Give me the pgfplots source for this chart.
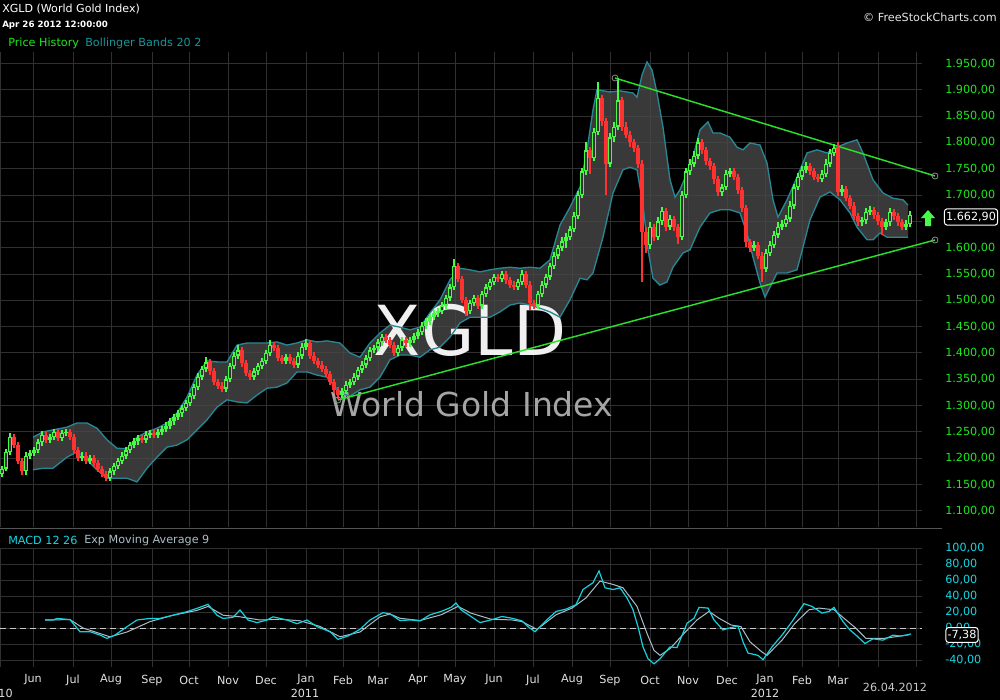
\documentclass[border=0pt]{standalone}
\usepackage{pgfplots}
\pgfplotsset{compat=1.18}
\usepackage{pgfplotstable}
\usepackage{fontspec}
\setmainfont{DejaVu Sans}
\definecolor{upg}{RGB}{70,250,70}
\definecolor{dnr}{RGB}{255,50,50}
\definecolor{bbfill}{RGB}{72,72,72}
\definecolor{bbin}{RGB}{50,50,50}
\definecolor{bbedge}{RGB}{40,135,148}
\definecolor{gridc}{RGB}{48,48,48}
\definecolor{lblg}{RGB}{30,232,30}
\definecolor{lblc}{RGB}{20,215,228}
\definecolor{macdc}{RGB}{20,210,222}
\definecolor{sigc}{RGB}{170,190,200}
\definecolor{trendg}{RGB}{40,225,40}
\definecolor{tealt}{RGB}{20,150,155}
\definecolor{monthc}{RGB}{225,225,225}
\newcommand{\smallf}{\fontsize{8.4pt}{10pt}\selectfont}

% Bollinger band: upper band (rows 0-97) followed by lower band in reverse order (rows 98-194)
\pgfplotstableread{
x y
33 1240
43 1250
53 1254
67 1259
77 1267
87 1267
97 1257
107 1235
117 1219
127 1218
137 1240
147 1250
157 1257
167 1267
177 1286
187 1316
197 1358
207 1385
217 1383
227 1383
237 1415
247 1419
257 1419
267 1419
277 1421
287 1415
297 1419
307 1425
317 1421
327 1423
340 1419
350 1400
360 1392
370 1419
380 1438
390 1453
400 1449
410 1444
420 1449
430 1476
440 1501
450 1539
460 1561
470 1558
480 1554
490 1558
500 1561
510 1563
520 1561
530 1563
540 1561
550 1577
560 1643
570 1677
580 1715
587 1786
593 1862
597 1900
610 1896
620 1898
633 1894
637 1886
642 1928
647 1953
652 1938
657 1894
663 1829
670 1729
675 1696
680 1710
687 1742
693 1772
700 1824
708 1839
713 1818
720 1818
730 1810
737 1791
743 1786
750 1799
760 1795
767 1761
773 1691
778 1658
787 1691
797 1734
807 1780
817 1786
827 1780
837 1791
847 1799
857 1805
863 1780
873 1729
883 1704
893 1694
903 1691
908 1681
908 1620
903 1620
893 1620
887 1620
880 1628
873 1615
867 1615
857 1639
850 1666
840 1691
830 1706
820 1696
810 1653
803 1601
797 1558
787 1552
777 1552
770 1525
765 1506
760 1533
753 1582
747 1628
740 1666
730 1672
720 1672
710 1666
700 1639
690 1596
683 1590
673 1563
667 1535
660 1529
653 1542
648 1596
643 1681
637 1748
630 1753
623 1748
613 1704
603 1620
593 1552
587 1539
580 1542
570 1501
560 1468
550 1478
540 1485
530 1491
520 1495
510 1491
500 1478
490 1468
480 1468
470 1468
460 1457
450 1430
440 1411
430 1406
420 1392
410 1396
400 1396
390 1387
380 1354
370 1335
360 1330
350 1318
340 1324
327 1354
317 1358
307 1364
297 1364
287 1343
277 1335
267 1333
257 1320
247 1305
237 1307
227 1311
217 1297
207 1273
197 1254
187 1235
177 1225
167 1221
157 1202
147 1181
137 1155
127 1162
117 1162
107 1162
97 1178
87 1197
77 1212
67 1202
53 1181
43 1181
33 1178
}\band

\pgfplotstableread{
x o h l c
2 1170 1186 1164 1180
6 1180 1218 1176 1212
10 1212 1248 1206 1240
14 1240 1246 1219 1225
18 1225 1231 1189 1195
22 1195 1201 1168 1175
26 1175 1211 1169 1205
30 1205 1216 1199 1210
34 1210 1221 1204 1215
38 1215 1236 1209 1230
42 1230 1251 1224 1245
46 1245 1251 1229 1235
50 1235 1246 1229 1240
54 1240 1256 1234 1250
58 1250 1256 1232 1238
62 1238 1254 1232 1248
66 1248 1256 1242 1250
70 1250 1256 1234 1240
74 1240 1246 1209 1215
78 1215 1221 1194 1200
82 1200 1211 1194 1205
86 1205 1211 1189 1195
90 1195 1206 1189 1200
94 1200 1206 1184 1190
98 1190 1196 1174 1180
102 1180 1186 1164 1170
106 1170 1176 1156 1162
110 1162 1181 1156 1175
114 1175 1191 1169 1185
118 1185 1201 1179 1195
122 1195 1211 1189 1205
126 1205 1221 1199 1215
130 1215 1231 1209 1225
134 1225 1238 1219 1232
138 1232 1244 1226 1238
142 1238 1244 1229 1235
146 1235 1251 1229 1245
150 1245 1254 1239 1248
154 1248 1254 1239 1245
158 1245 1256 1239 1250
162 1250 1261 1244 1255
166 1255 1268 1249 1262
170 1262 1276 1256 1270
174 1270 1284 1264 1278
178 1278 1291 1272 1285
182 1285 1301 1279 1295
186 1295 1311 1289 1305
190 1305 1324 1299 1318
194 1318 1341 1312 1335
198 1335 1361 1329 1355
202 1355 1376 1349 1370
206 1370 1392 1364 1382
210 1382 1388 1359 1365
214 1365 1371 1339 1345
218 1345 1351 1332 1338
222 1338 1344 1326 1332
226 1332 1356 1326 1350
230 1350 1381 1344 1375
234 1375 1401 1369 1395
238 1395 1415 1389 1405
242 1405 1411 1374 1380
246 1380 1386 1356 1362
250 1362 1368 1349 1355
254 1355 1371 1349 1365
258 1365 1381 1359 1375
262 1375 1391 1369 1385
266 1385 1406 1379 1400
270 1400 1425 1394 1415
274 1415 1421 1404 1410
278 1410 1416 1384 1390
282 1390 1396 1379 1385
286 1385 1398 1379 1392
290 1392 1398 1379 1385
294 1385 1391 1372 1378
298 1378 1401 1372 1395
302 1395 1418 1389 1412
306 1412 1426 1406 1418
310 1418 1424 1389 1395
314 1395 1401 1379 1385
318 1385 1391 1372 1378
322 1378 1384 1364 1370
326 1370 1376 1354 1360
330 1360 1366 1339 1345
334 1345 1351 1324 1330
338 1330 1336 1312 1320
342 1320 1334 1314 1328
346 1328 1346 1322 1340
350 1340 1351 1334 1345
354 1345 1361 1339 1355
358 1355 1374 1349 1368
362 1368 1384 1362 1378
366 1378 1396 1372 1390
370 1390 1411 1384 1405
374 1405 1416 1399 1410
378 1410 1426 1404 1420
382 1420 1436 1414 1430
386 1430 1436 1419 1425
390 1425 1431 1409 1415
394 1415 1421 1394 1400
398 1400 1416 1394 1410
402 1410 1431 1404 1425
406 1425 1431 1412 1418
410 1418 1431 1412 1425
414 1425 1438 1419 1432
418 1432 1446 1426 1440
422 1440 1458 1434 1452
426 1452 1466 1446 1460
430 1460 1474 1454 1468
434 1468 1481 1462 1475
438 1475 1486 1469 1480
442 1480 1496 1474 1490
446 1490 1511 1484 1505
450 1505 1531 1499 1525
454 1525 1578 1519 1565
458 1565 1571 1534 1540
462 1540 1546 1494 1500
466 1500 1506 1470 1480
470 1480 1501 1474 1495
474 1495 1511 1489 1505
478 1505 1511 1484 1490
482 1490 1518 1484 1512
486 1512 1531 1506 1525
490 1525 1541 1519 1535
494 1535 1551 1529 1545
498 1545 1551 1534 1540
502 1540 1556 1534 1550
506 1550 1556 1532 1538
510 1538 1544 1524 1530
514 1530 1536 1519 1525
518 1525 1541 1519 1535
522 1535 1558 1529 1550
526 1550 1556 1524 1530
530 1530 1536 1482 1495
534 1495 1501 1484 1490
538 1490 1518 1484 1512
542 1512 1536 1506 1530
546 1530 1551 1524 1545
550 1545 1571 1539 1565
554 1565 1591 1559 1585
558 1585 1606 1579 1600
562 1600 1620 1594 1612
566 1612 1628 1600 1620
570 1620 1641 1614 1635
574 1635 1668 1629 1660
578 1660 1708 1654 1700
582 1700 1752 1694 1745
586 1745 1800 1739 1785
590 1785 1791 1740 1770
594 1770 1828 1764 1820
598 1820 1915 1814 1885
602 1885 1891 1832 1840
606 1840 1846 1700 1760
610 1760 1818 1754 1810
614 1810 1838 1800 1830
618 1830 1922 1824 1880
622 1880 1886 1822 1830
626 1830 1838 1808 1815
630 1815 1821 1792 1800
634 1800 1806 1782 1790
638 1790 1796 1752 1760
642 1760 1766 1535 1630
646 1630 1640 1590 1605
650 1605 1648 1598 1640
654 1640 1646 1612 1620
658 1620 1658 1614 1650
662 1650 1678 1644 1670
666 1670 1676 1632 1640
670 1640 1662 1634 1655
674 1655 1661 1632 1640
678 1640 1646 1608 1620
682 1620 1708 1614 1700
686 1700 1752 1694 1745
690 1745 1768 1739 1760
694 1760 1783 1754 1775
698 1775 1808 1769 1800
702 1800 1806 1778 1785
706 1785 1791 1758 1765
710 1765 1771 1748 1755
714 1755 1761 1722 1730
718 1730 1736 1698 1705
722 1705 1722 1699 1715
726 1715 1748 1709 1740
730 1740 1752 1734 1745
734 1745 1751 1728 1735
738 1735 1741 1702 1710
742 1710 1716 1668 1675
746 1675 1681 1602 1610
750 1610 1616 1592 1600
754 1600 1612 1594 1605
758 1605 1611 1578 1585
762 1585 1591 1535 1560
766 1560 1598 1554 1590
770 1590 1612 1584 1605
774 1605 1632 1599 1625
778 1625 1648 1619 1640
782 1640 1652 1634 1645
786 1645 1662 1639 1655
790 1655 1688 1649 1680
794 1680 1722 1674 1715
798 1715 1742 1709 1735
802 1735 1755 1729 1748
806 1748 1762 1742 1755
810 1755 1761 1738 1745
814 1745 1751 1728 1735
818 1735 1741 1724 1730
822 1730 1748 1724 1740
826 1740 1768 1734 1760
830 1760 1788 1754 1780
834 1780 1798 1774 1790
838 1790 1800 1698 1705
842 1705 1720 1699 1712
846 1712 1718 1688 1695
850 1695 1701 1673 1680
854 1680 1686 1653 1660
858 1660 1666 1641 1648
862 1648 1659 1642 1652
866 1652 1675 1646 1668
870 1668 1679 1662 1672
874 1672 1678 1655 1662
878 1662 1668 1643 1650
882 1650 1656 1625 1640
886 1640 1655 1634 1648
890 1648 1675 1642 1668
894 1668 1674 1653 1660
898 1660 1666 1641 1648
902 1648 1654 1633 1640
906 1640 1652 1634 1645
910 1645 1669 1639 1663
}\candles

\pgfplotsset{
  candle/.style n args={2}{draw=none, mark=none, forget plot,
    error bars/.cd, y dir=plus, y explicit, error mark=none,
    error bar style={draw=#1, line width=#2, solid}},
}

\begin{document}
\begin{tikzpicture}
\fill[black] (0pt,0pt) rectangle (750pt,-525pt);

% ---------------- main price panel ----------------
\begin{axis}[
  at={(0pt,-39pt)}, anchor=north west, scale only axis,
  width=691.5pt, height=356.25pt,
  xmin=0, xmax=922, ymin=1069.35, ymax=1971.85,
  clip=false,
  axis line style={draw=none}, tick style={draw=none}, major tick length=0pt,
  grid=major, grid style={gridc, line width=0.75pt},
  xtick={0.5,33,73,111,152,189,228,266,306,343,378,418,455,494,533,572,610,650,688,727,765,802,838,878,916},
  xticklabels={},
  ytick={1100,1150,...,1950},
  yticklabel pos=right,
  yticklabels={{1.100,00},{1.150,00},{1.200,00},{1.250,00},{1.300,00},{1.350,00},{1.400,00},{1.450,00},{1.500,00},{1.550,00},{1.600,00},{1.650,00},{1.700,00},{1.750,00},{1.800,00},{1.850,00},{1.900,00},{1.950,00}},
  yticklabel style={anchor=west, inner sep=0pt, xshift=17.25pt, font=\smallf, text=lblg},
]
% Bollinger band area
\addplot[fill=bbfill, fill opacity=0.8, draw=none, forget plot] table {\band};
% watermark (behind the price data)
\node[inner sep=0pt, text={rgb,255:red,240;green,240;blue,240}, font=\fontsize{51.75pt}{52pt}\selectfont] at (axis cs:470,1443.6) {XGLD};
\node[inner sep=0pt, text={rgb,255:red,165;green,165;blue,165}, font=\fontsize{24.75pt}{26pt}\selectfont] at (axis cs:472,1303) {World Gold Index};
% band edges
\addplot[bbedge, line width=1pt, forget plot, restrict expr to domain={\coordindex}{0:97}] table {\band};
\addplot[bbedge, line width=1pt, forget plot, restrict expr to domain={\coordindex}{98:194}] table {\band};

% trend lines
\addplot[trendg, line width=1.1pt, forget plot] coordinates {(615,1922.45)(935,1736.25)};
\addplot[trendg, line width=1.1pt, forget plot] coordinates {(338,1310.65)(935,1614.65)};

% wicks
\addplot[restrict expr to domain={\thisrow{c}-\thisrow{o}}{0:5000},
  candle={upg}{0.8pt}]
  table[x=x, y=l, y error plus expr=\thisrow{h}-\thisrow{l}] {\candles};
\addplot[restrict expr to domain={\thisrow{c}-\thisrow{o}}{-5000:-0.01},
  candle={dnr}{0.8pt}]
  table[x=x, y=l, y error plus expr=\thisrow{h}-\thisrow{l}] {\candles};
% bodies
\addplot[restrict expr to domain={\thisrow{c}-\thisrow{o}}{0:5000},
  candle={upg}{2.5pt}]
  table[x=x, y=o, y error plus expr=\thisrow{c}-\thisrow{o}] {\candles};
\addplot[restrict expr to domain={\thisrow{c}-\thisrow{o}}{9:5000},
  candle={bbin}{0.95pt}]
  table[x=x, y expr=\thisrow{o}+2.5, y error plus expr=\thisrow{c}-\thisrow{o}-5] {\candles};
\addplot[restrict expr to domain={\thisrow{c}-\thisrow{o}}{-5000:-0.01},
  candle={dnr}{2.5pt}]
  table[x=x, y=c, y error plus expr=\thisrow{o}-\thisrow{c}] {\candles};

\addplot[only marks, mark=o, mark size=2.25pt, color={rgb,255:red,140;green,140;blue,140}, mark options={line width=0.6pt}, forget plot]
  coordinates {(615,1922.45)(935,1736.25)(935,1614.65)(338,1310.65)};
\end{axis}

% ---------------- MACD panel ----------------
\begin{axis}[
  at={(0pt,-411pt)}, anchor=north west, scale only axis,
  width=691.5pt, height=89.25pt,
  xmin=0, xmax=922, ymin=-48.75, ymax=100,
  clip=false,
  axis line style={draw=none}, tick style={draw=none}, major tick length=0pt,
  grid=major, grid style={gridc, line width=0.75pt},
  xtick={0.5,33,73,111,152,189,228,266,306,343,378,418,455,494,533,572,610,650,688,727,765,802,838,878,916},
  xticklabels={,Jun,Jul,Aug,Sep,Oct,Nov,Dec,Jan,Feb,Mar,Apr,May,Jun,Jul,Aug,Sep,Oct,Nov,Dec,Jan,Feb,Mar,,},
  xticklabel style={anchor=center, inner sep=0pt, yshift=-9.75pt, font=\smallf, text=monthc},
  ytick={-40,-20,...,100},
  yticklabel pos=right,
  yticklabels={{-40,00},{-20,00},{0,00},{20,00},{40,00},{60,00},{80,00},{100,00}},
  yticklabel style={anchor=west, inner sep=0pt, xshift=17.25pt, font=\smallf, text=lblc},
]
\addplot[color={rgb,255:red,200;green,200;blue,200}, line width=0.75pt, dash pattern=on 4.5pt off 3pt, forget plot] coordinates {(0,0)(922,0)};
\addplot[sigc, line width=0.75pt, forget plot] coordinates {
(45,10)(70,10.5)(83,0)(110,-11)(127,-5)(150,8)(173,16)(197,22)(208,27)(223,16)(240,14)(260,10)(280,11)(300,9)(320,2)(340,-11)(360,-5)(380,14)(390,17.5)(400,12.2)(420,9.3)(441,16.5)(458,27)(471,18.6)(491,11)(512,10.1)(522,8)(537,-1.7)(556,16.5)(572,24.9)(586,37.6)(600,58.7)(613,54.5)(623,50.3)(637,27)(647,-6.8)(654,-27.9)(660,-34.2)(670,-25.8)(684,-6.8)(697,10.1)(709,20.7)(719,12.2)(731,3.8)(741,1.7)(750,-17.3)(762,-30)(767,-34.2)(782,-15.2)(795,5.9)(809,22.8)(819,24.9)(834,22.8)(846,10.1)(856,-0.4)(866,-13.1)(883,-13.1)(900,-10.1)(909,-8.4)};
\addplot[macdc, line width=0.9pt, forget plot] coordinates {
(45,10)(53,10)(57,12)(70,10.5)(80,-4.6)(90,-4.6)(100,-8.8)(107,-13)(115,-8.8)(127,1.7)(137,10)(150,12)(160,12)(173,16)(187,20.4)(197,24.6)(208,29.6)(217,16)(223,12)(233,13.3)(240,22.5)(248,10)(257,6.7)(267,10)(273,14)(287,10)(297,5.4)(307,10)(317,1.7)(330,-4.6)(338,-14.2)(348,-10)(360,-1.7)(370,10)(383,19.2)(390,17.7)(400,9.3)(410,10.1)(420,8.9)(430,16.5)(441,20.7)(451,25.8)(456,31.3)(461,22.8)(471,14.4)(480,6.8)(491,10.1)(502,14.4)(512,12.2)(522,8.9)(528,1.7)(535,-4.6)(545,8)(556,20.7)(566,23.6)(576,29.1)(583,48.1)(593,56.6)(599,71.4)(605,50.3)(613,48.1)(620,50.3)(627,37.6)(633,22.8)(638,1.7)(643,-23.6)(648,-38.4)(654,-44.8)(660,-38.4)(670,-23.6)(677,-24.5)(687,5.9)(694,12.2)(699,25.8)(708,24.9)(714,10.1)(723,-2.5)(728,-0.4)(738,2.5)(743,-17.3)(748,-31.3)(758,-34.2)(763,-39.7)(772,-23.6)(782,-8.9)(792,8)(804,30.4)(812,27)(822,18.6)(829,20.7)(834,25.8)(843,8)(850,-2.5)(856,-8.9)(865,-19.4)(873,-13.5)(883,-15.2)(893,-8.9)(900,-10.1)(906,-8.9)(911,-7.4)};
\end{axis}

% ---------------- decorations (pixel coordinates) ----------------
\begin{scope}[x=0.75pt, y=-0.75pt]
\draw[color={rgb,255:red,85;green,85;blue,85}, line width=0.75pt] (0,528) -- (942,528);
\node[anchor=west, inner sep=0pt, text=white, font=\fontsize{8.3pt}{10pt}\selectfont] at (2,9) {XGLD (World Gold Index)};
\node[anchor=west, inner sep=0pt, text=white, font=\fontsize{6.5pt}{8pt}\selectfont\bfseries] at (2,25) {Apr 26 2012 12:00:00};
\node[anchor=west, inner sep=0pt, text=lblg, font=\smallf] at (8,43) {Price History};
\node[anchor=west, inner sep=0pt, text=tealt, font=\smallf] at (85,43) {Bollinger Bands 20 2};
\node[anchor=west, inner sep=0pt, text=lblc, font=\smallf] at (8,540) {MACD 12 26};
\node[anchor=west, inner sep=0pt, text=sigc, font=\smallf] at (84,540) {Exp Moving Average 9};
\node[anchor=east, inner sep=0pt, text={rgb,255:red,230;green,230;blue,230}, font=\smallf] at (997,17) {© FreeStockCharts.com};
% last price box and arrow
\fill[upg] (921,218) -- (928,210) -- (935,218) -- (931,218) -- (931,226) -- (925,226) -- (925,218) -- cycle;
\node[draw=white, fill=black, rounded corners=2pt, line width=0.75pt, text=white, font=\smallf, inner xsep=1.2pt, inner ysep=2.5pt] at (971,217) {1.662,90};
\node[draw=white, fill=black, rounded corners=2pt, line width=0.75pt, text=white, font=\smallf, inner xsep=1.2pt, inner ysep=2pt] at (962,635) {-7,38};
% years
\node[anchor=east, inner sep=0pt, text=monthc, font=\smallf] at (13,693) {2010};
\node[inner sep=0pt, text=monthc, font=\smallf] at (305,693) {2011};
\node[inner sep=0pt, text=monthc, font=\smallf] at (765,693) {2012};
\node[inner sep=0pt, text={rgb,255:red,200;green,200;blue,200}, font=\smallf] at (895,687) {26.04.2012};
\end{scope}
\pgfresetboundingbox
\useasboundingbox (0pt,0pt) rectangle (750pt,-525pt);
\end{tikzpicture}
\end{document}
